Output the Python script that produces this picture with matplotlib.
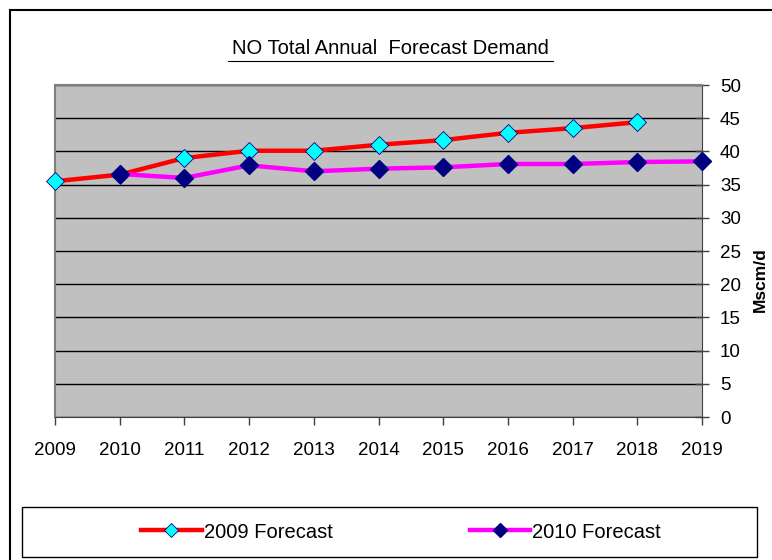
import matplotlib
matplotlib.use("Agg")
import matplotlib.pyplot as plt
from matplotlib.patches import Rectangle
from matplotlib.lines import Line2D

plt.rcParams['font.family'] = ['Liberation Sans', 'DejaVu Sans']

years_2009 = [2009, 2010, 2011, 2012, 2013, 2014, 2015, 2016, 2017, 2018]
demand_2009 = [35.5, 36.5, 39.0, 40.1, 40.1, 41.0, 41.7, 42.8, 43.5, 44.4]
years_2010 = [2010, 2011, 2012, 2013, 2014, 2015, 2016, 2017, 2018, 2019]
demand_2010 = [36.6, 36.0, 37.9, 37.0, 37.4, 37.6, 38.1, 38.1, 38.4, 38.5]
x_ticks = list(range(2009, 2020))
y_ticks = list(range(0, 55, 5))

W, H = 772, 560
fig = plt.figure(figsize=(W / 100, H / 100), dpi=100)

# outer chart frame
fig.patches.append(Rectangle((10 / W, -0.1), 1.2, 1 - 10 / H + 0.1, transform=fig.transFigure,
                             fill=False, edgecolor='black', linewidth=1.5))

ax = fig.add_axes([55 / W, 1 - 417 / H, (702 - 55) / W, (417 - 85) / H])
ax.set_facecolor('#C0C0C0')

ax.plot(years_2009, demand_2009, color='red', linewidth=3.2, marker='D', markersize=9,
        markerfacecolor='#00FFFF', markeredgecolor='#000080', markeredgewidth=0.6,
        label='2009 Forecast', clip_on=False, zorder=3)
ax.plot(years_2010, demand_2010, color='#FF00FF', linewidth=3.2, marker='D', markersize=9,
        markerfacecolor='#000080', markeredgecolor='#000080',
        label='2010 Forecast', clip_on=False, zorder=3)

ax.set_xlim(2009, 2019)
ax.set_ylim(0, 50)
ax.set_xticks(x_ticks)
ax.set_yticks(y_ticks)
ax.yaxis.tick_right()
ax.grid(axis='y', color='black', linewidth=1)
ax.set_axisbelow(True)
ax.tick_params(axis='y', direction='inout', length=10, width=1, color='#404040',
               labelsize=13.5, pad=8)
ax.tick_params(axis='x', direction='out', length=6, width=1, color='#404040',
               labelsize=13.5, pad=12)
for s in ['left', 'top']:
    ax.spines[s].set_color('#808080')
    ax.spines[s].set_linewidth(1.5)
ax.spines['right'].set_color('#404040')
ax.spines['bottom'].set_color('#404040')

fig.text(753 / W, 1 - 280 / H, 'Mscm/d', rotation=90, fontsize=12.5, fontweight='bold',
         ha='left', va='center')

fig.text(390 / W, 1 - 48 / H, 'NO Total Annual  Forecast Demand', fontsize=14.5,
         ha='center', va='center')
fig.add_artist(Line2D([228 / W, 553 / W], [1 - 61 / H, 1 - 61 / H], color='black',
                      linewidth=0.8, transform=fig.transFigure))

# legend box
fig.patches.append(Rectangle((22 / W, 1 - 557 / H), (757 - 22) / W, 50 / H,
                             transform=fig.transFigure, fill=False,
                             edgecolor='black', linewidth=1))
fig.legend(loc='center', bbox_to_anchor=(401 / W, 1 - 532 / H), ncol=2, frameon=False,
           fontsize=14.5, handlelength=3.0, handletextpad=0.1, columnspacing=6.8,
           markerscale=0.8)

fig.savefig('out.png', dpi=100)
